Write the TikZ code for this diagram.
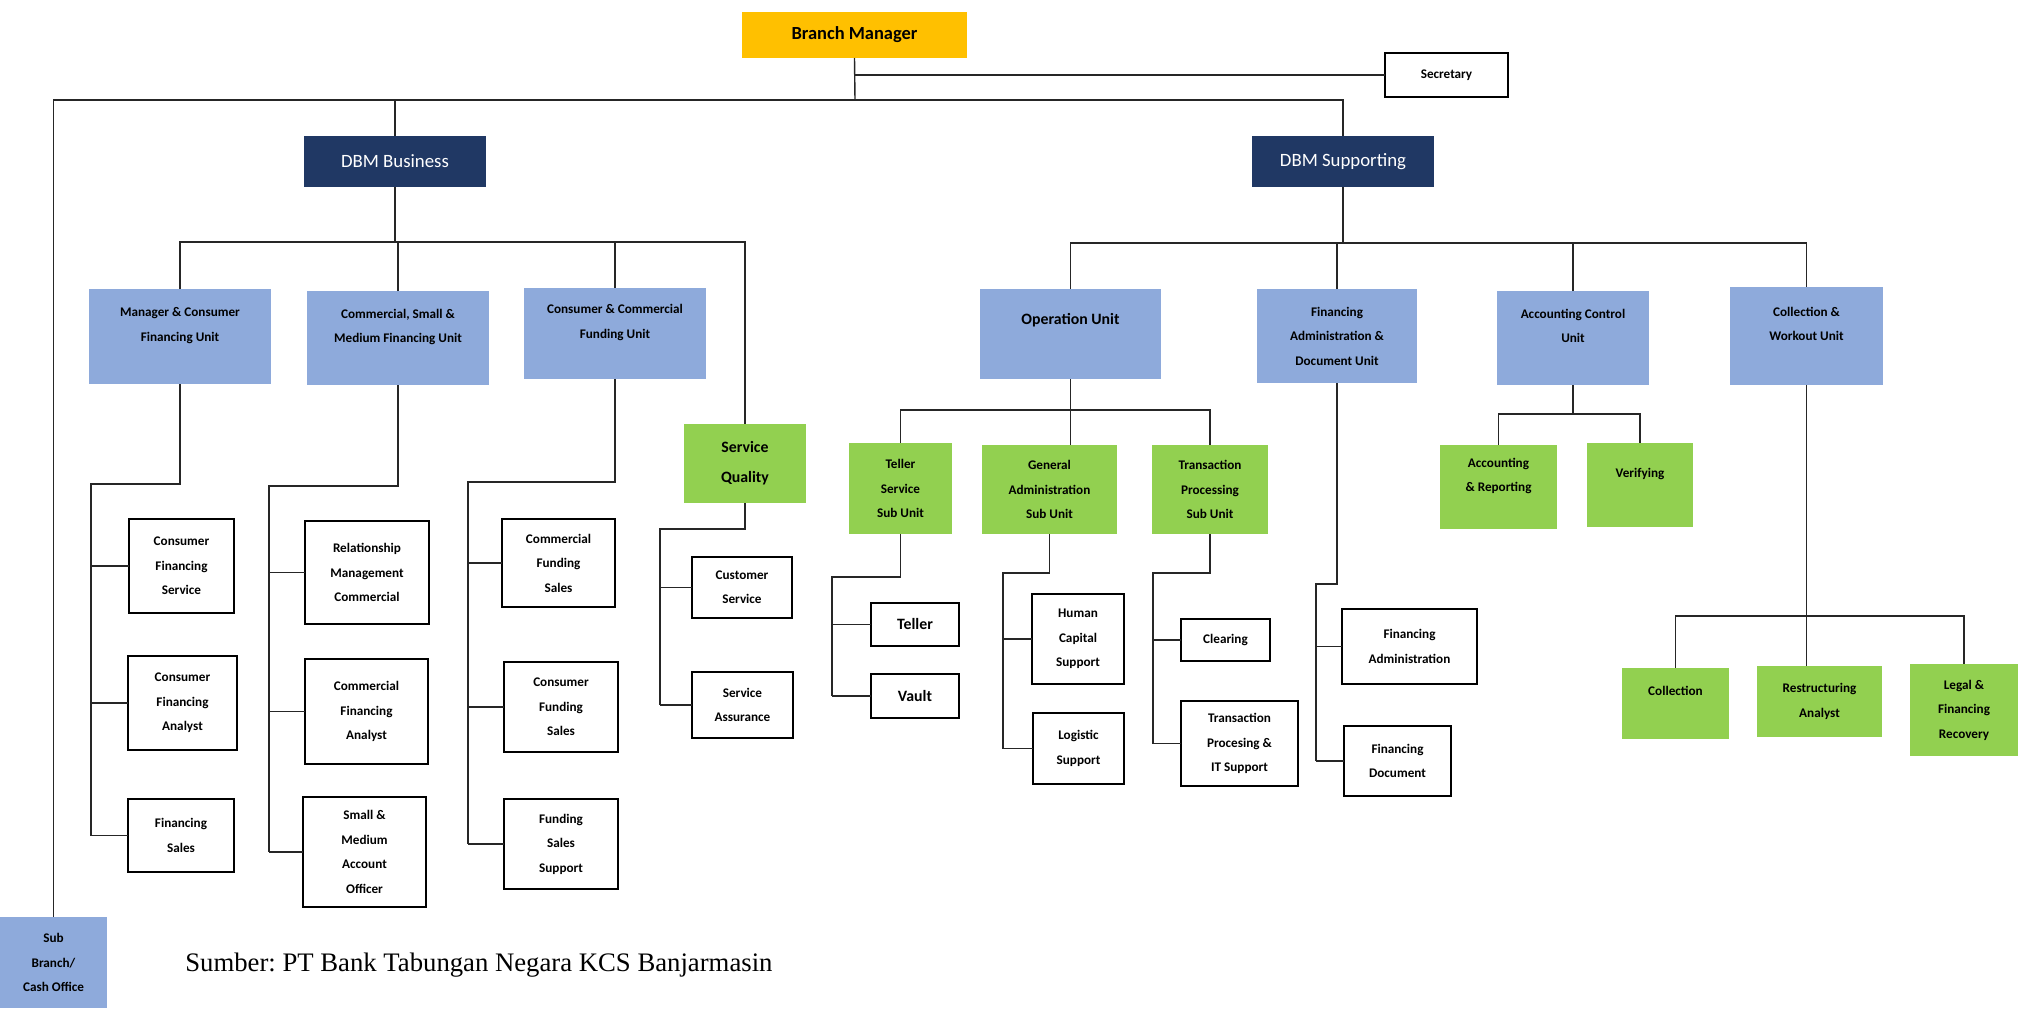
\documentclass[tikz,border=0pt]{standalone}
\usepackage{fontspec}
\setmainfont{Carlito}
\newfontfamily\footfont{Liberation Serif}
\usepackage{xcolor}
\definecolor{gold}{HTML}{FFC000}
\definecolor{navy}{HTML}{203864}
\definecolor{unitblue}{HTML}{8EAADB}
\definecolor{subgreen}{HTML}{92D050}
\usepackage{tikz}

\begin{document}
\begin{tikzpicture}[x=0.2mm, y=-0.2mm,
    wh/.style 2 args={minimum width=#1*0.2mm, minimum height=#2*0.2mm},
    box/.style={inner sep=0pt, outer sep=0pt, align=center, font=\fontsize{7.5}{13.9}\selectfont\bfseries},
    head/.style={box, fill=gold, font=\fontsize{10.5}{14}\selectfont\bfseries},
    dbm/.style={box, fill=navy, text=white, font=\fontsize{10.7}{14}\selectfont},
    unit/.style={box, fill=unitblue},
    subunit/.style={box, fill=subgreen},
    leaf/.style={box, draw=black, line width=1.6pt, fill=white},
    big/.style={font=\fontsize{9}{17}\selectfont\bfseries},
    link/.style={draw=black!85, line width=0.8pt}]
  \useasboundingbox (0,0) rectangle (2021,1010);

  \node[head, wh={225}{46}] (bm) at (854.5,35) {Branch Manager};
  \node[leaf, wh={123}{44}] (sec) at (1446.5,75) {Secretary};
  \node[dbm, wh={182}{51}] (dbmb) at (395,161.5) {DBM Business};
  \node[dbm, wh={182}{51}] (dbms) at (1343,161.5) {DBM Supporting};

  % units
  \node[unit, wh={182}{95}] (mcfu) at (180,336.5) {Manager \& Consumer\\Financing Unit\\~};
  \node[unit, wh={182}{94}] (csmfu) at (398,338) {Commercial, Small \&\\Medium Financing Unit\\~};
  \node[unit, wh={182}{91}] (ccfu) at (615,333.5) {Consumer \& Commercial\\Funding Unit\\~};
  \node[unit, big, wh={181}{90}] (opu) at (1070.5,334) {Operation Unit\\~};
  \node[unit, wh={160}{94}] (fadu) at (1337,336) {Financing\\Administration \&\\Document Unit};
  \node[unit, wh={152}{94}] (acu) at (1573,338) {Accounting Control\\Unit\\~};
  \node[unit, wh={153}{98}] (cwu) at (1806.5,336) {Collection \&\\Workout Unit\\~};
  \node[unit, wh={107}{91}] (subbr) at (53.5,962.5) {Sub\\Branch/\\Cash Office};

  % sub units
  \node[subunit, big, wh={122}{79}] (sq) at (745,463.5) {Service\\Quality};
  \node[subunit, wh={103}{91}] (tssu) at (900.5,488.5) {Teller\\Service\\Sub Unit};
  \node[subunit, wh={135}{89}] (gasu) at (1049.5,489.5) {General\\Administration\\Sub Unit};
  \node[subunit, wh={116}{89}] (tpsu) at (1210,489.5) {Transaction\\Processing\\Sub Unit};
  \node[subunit, wh={117}{84}] (ar) at (1498.5,487) {Accounting\\\& Reporting\\~};
  \node[subunit, wh={106}{84}] (ver) at (1640,485) {Verifying\\~};
  \node[subunit, wh={107}{71}] (col) at (1675.5,703.5) {Collection\\~};
  \node[subunit, wh={125}{71}] (ra) at (1819.5,701.5) {Restructuring\\Analyst};
  \node[subunit, wh={108}{92}] (lfr) at (1964,710) {Legal \&\\Financing\\Recovery};

  % staff
  \node[leaf, wh={105}{94}] (cfs) at (181.5,566) {Consumer\\Financing\\Service};
  \node[leaf, wh={109}{94}] (cfa) at (182.5,703) {Consumer\\Financing\\Analyst};
  \node[leaf, wh={106}{73}] (fs) at (181,835.5) {Financing\\Sales};
  \node[leaf, wh={124}{103}] (rmc) at (367,572.5) {Relationship\\Management\\Commercial};
  \node[leaf, wh={123}{105}] (cfan) at (366.5,711.5) {Commercial\\Financing\\Analyst};
  \node[leaf, wh={123}{110}] (smao) at (364.5,852) {Small \&\\Medium\\Account\\Officer};
  \node[leaf, wh={113}{88}] (cfsl) at (558.5,563) {Commercial\\Funding\\Sales};
  \node[leaf, wh={114}{90}] (cofs) at (561,707) {Consumer\\Funding\\Sales};
  \node[leaf, wh={114}{90}] (fss) at (561,844) {Funding\\Sales\\Support};
  \node[leaf, wh={100}{61}] (cs) at (742,587.5) {Customer\\Service};
  \node[leaf, wh={101}{66}] (sa) at (742.5,705) {Service\\Assurance};
  \node[leaf, big, wh={88}{43}] (teller) at (915,624.5) {Teller};
  \node[leaf, big, wh={88}{44}] (vault) at (915,696) {Vault};
  \node[leaf, wh={92}{90}] (hcs) at (1078,639) {Human\\Capital\\Support};
  \node[leaf, wh={91}{71}] (ls) at (1078.5,748.5) {Logistic\\Support};
  \node[leaf, wh={89}{42}] (clr) at (1225.5,640) {Clearing};
  \node[leaf, wh={117}{85}] (tpit) at (1239.5,743.5) {Transaction\\Procesing \&\\IT Support};
  \node[leaf, wh={135}{75}] (fa) at (1409.5,646.5) {Financing\\Administration};
  \node[leaf, wh={107}{70}] (fd) at (1397.5,761) {Financing\\Document};

  \node[font={\footfont\fontsize{15.2}{18}\selectfont}, inner sep=0pt, anchor=base west] (src) at (185,971) {\frenchspacing Sumber: PT Bank Tabungan Negara KCS Banjarmasin};

  % top level lines
  \coordinate (top) at (855,100);
  \draw[link] (bm.south) -- (top);
  \draw[link] (bm.south |- sec.west) -- (sec.west);
  \draw[link] (subbr.north) |- (dbms.north |- top) -- (dbms.north);
  \draw[link] (dbmb.north) -- (dbmb.north |- top);

  \coordinate (busb) at (395,242);
  \draw[link] (dbmb.south) -- (busb);
  \draw[link] (mcfu.north) |- (sq.north |- busb) -- (sq.north);
  \foreach \u in {csmfu,ccfu} \draw[link] (\u.north) -- (\u.north |- busb);

  \coordinate (buss) at (1343,243);
  \draw[link] (dbms.south) -- (buss);
  \draw[link] (opu.north) |- (cwu.north |- buss) -- (cwu.north);
  \foreach \u in {fadu,acu} \draw[link] (\u.north) -- (\u.north |- buss);

  % trunks
  \coordinate (tA) at (91,484);
  \draw[link] (mcfu.south) |- (tA) -- (tA |- fs.west);
  \foreach \c in {cfs,cfa,fs} \draw[link] (tA |- \c.west) -- (\c.west);

  \coordinate (tB) at (269,486);
  \draw[link] (csmfu.south) |- (tB) -- (tB |- smao.west);
  \foreach \c in {rmc,cfan,smao} \draw[link] (tB |- \c.west) -- (\c.west);

  \coordinate (tC) at (468,482);
  \draw[link] (ccfu.south) |- (tC) -- (tC |- fss.west);
  \foreach \c in {cfsl,cofs,fss} \draw[link] (tC |- \c.west) -- (\c.west);

  \coordinate (tD) at (660,529);
  \draw[link] (sq.south) |- (tD) -- (tD |- sa.west);
  \foreach \c in {cs,sa} \draw[link] (tD |- \c.west) -- (\c.west);

  \coordinate (busop) at (1070,410);
  \draw[link] (opu.south) -- (opu.south |- gasu.north);
  \draw[link] (tssu.north) |- (tpsu.north |- busop) -- (tpsu.north);

  \coordinate (tT) at (832,577);
  \draw[link] (tssu.south) |- (tT) -- (tT |- vault.west);
  \foreach \c in {teller,vault} \draw[link] (tT |- \c.west) -- (\c.west);

  \coordinate (tG) at (1003,573);
  \draw[link] (gasu.south) |- (tG) -- (tG |- ls.west);
  \foreach \c in {hcs,ls} \draw[link] (tG |- \c.west) -- (\c.west);

  \coordinate (tP) at (1153,573);
  \draw[link] (tpsu.south) |- (tP) -- (tP |- tpit.west);
  \foreach \c in {clr,tpit} \draw[link] (tP |- \c.west) -- (\c.west);

  \coordinate (tF) at (1316,584);
  \draw[link] (fadu.south) |- (tF) -- (tF |- fd.west);
  \foreach \c in {fa,fd} \draw[link] (tF |- \c.west) -- (\c.west);

  \coordinate (busac) at (1573,414);
  \draw[link] (acu.south) -- (busac);
  \draw[link] (ar.north) |- (ver.north |- busac) -- (ver.north);

  \coordinate (buscw) at (1806,616);
  \draw[link] (cwu.south) -- (cwu.south |- ra.north);
  \draw[link] (col.north) |- (lfr.north |- buscw) -- (lfr.north);
\end{tikzpicture}
\end{document}
